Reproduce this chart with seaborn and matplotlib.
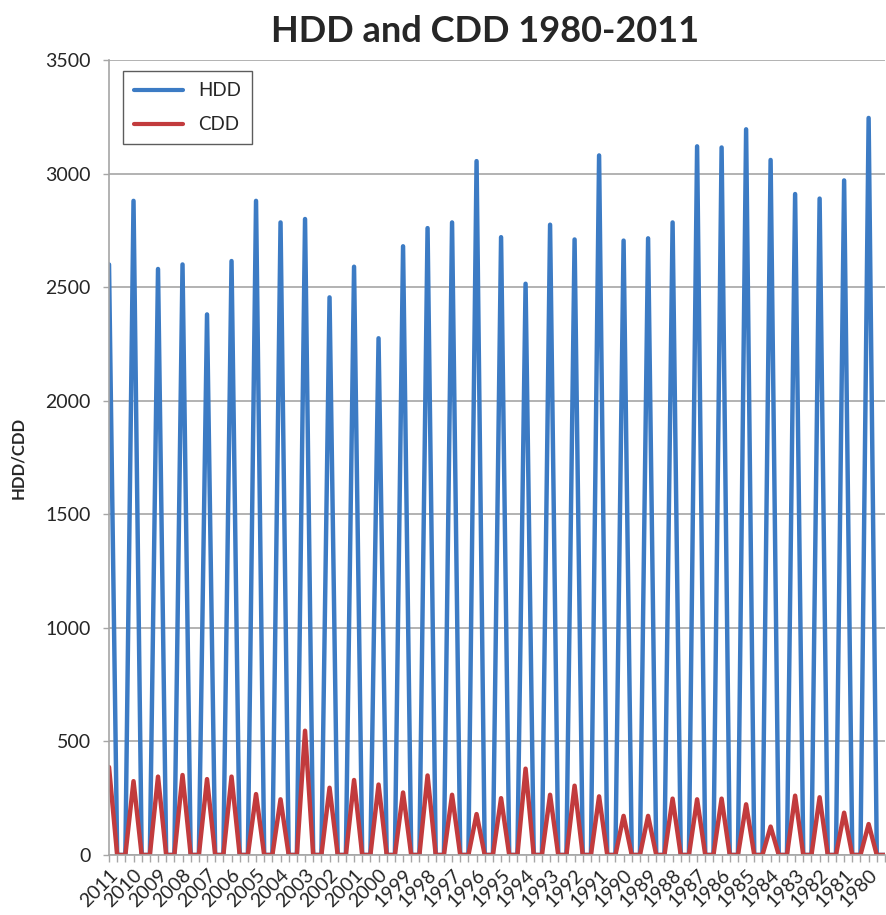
import matplotlib
matplotlib.use("Agg")
import matplotlib.pyplot as plt
from matplotlib.lines import Line2D
import numpy as np
import pandas as pd
import seaborn as sns

years = list(range(2011, 1979, -1))
hdd = [2600, 2880, 2580, 2600, 2380, 2615, 2880, 2785, 2800, 2455,
       2590, 2275, 2680, 2760, 2785, 3055, 2720, 2515, 2775, 2710,
       3080, 2705, 2715, 2785, 3120, 3115, 3195, 3060, 2910, 2890,
       2970, 3245]
cdd = [387, 325, 345, 352, 334, 345, 268, 245, 547, 296,
       330, 310, 275, 350, 265, 180, 250, 380, 265, 305,
       258, 172, 172, 248, 245, 248, 223, 125, 261, 254,
       186, 136]
# each year is one peak row followed by two empty (zero) rows
rows_per_year = 3

records = []
for i, yr in enumerate(years):
    for j in range(rows_per_year):
        pos = i * rows_per_year + j
        records.append({"pos": pos, "serie": "HDD", "wert": hdd[i] if j == 0 else 0})
        records.append({"pos": pos, "serie": "CDD", "wert": cdd[i] if j == 0 else 0})
df = pd.DataFrame(records)

farben = {"HDD": "#3c7bc4", "CDD": "#c23b3d"}
grau = "#a6a6a6"

sns.set_style("white")
plt.rcParams["font.family"] = ["Lato", "DejaVu Sans"]

fig = plt.figure(figsize=(8.87, 9.15), dpi=100)
ax = fig.add_axes([0.1229, 0.0656, 0.8748, 0.8688])

sns.lineplot(data=df, x="pos", y="wert", hue="serie", hue_order=["HDD", "CDD"],
             palette=farben, linewidth=3.2, ax=ax, legend=False)

n = len(years) * rows_per_year
ax.set_xlim(0, n - 1)
ax.set_ylim(0, 3500)
ax.set_yticks(range(0, 3501, 500))
ax.yaxis.grid(True, color=grau, linewidth=1.2)
ax.set_axisbelow(True)

ax.set_xticks(range(n))
labels = []
for yr in years:
    labels += [str(yr)] + [""] * (rows_per_year - 1)
ax.set_xticklabels(labels, rotation=45, ha="right", rotation_mode="anchor", fontsize=14)

for s in ["top", "right"]:
    ax.spines[s].set_visible(False)
for s in ["left", "bottom"]:
    ax.spines[s].set_color(grau)
    ax.spines[s].set_linewidth(1.2)

ax.tick_params(axis="x", length=5, color=grau, width=1, pad=3, bottom=True)
ax.tick_params(axis="y", length=4, color=grau, width=1, pad=9, labelsize=14, left=True)

ax.set_xlabel("")
ax.set_ylabel("HDD/CDD", fontsize=12, fontweight="bold", labelpad=14)

fig.suptitle("HDD and CDD 1980-2011", fontsize=26, fontweight="bold", x=0.547, y=0.984)

handles = [Line2D([0], [0], color=farben[k], linewidth=3) for k in ["HDD", "CDD"]]
leg = ax.legend(handles, ["HDD", "CDD"], loc="upper left", bbox_to_anchor=(0.006, 0.998),
                fontsize=13.5, frameon=True, fancybox=False, edgecolor="#333333",
                handlelength=2.6, labelspacing=0.9, borderpad=0.6)
leg.get_frame().set_linewidth(1.0)

fig.savefig("out.png", dpi=100)
